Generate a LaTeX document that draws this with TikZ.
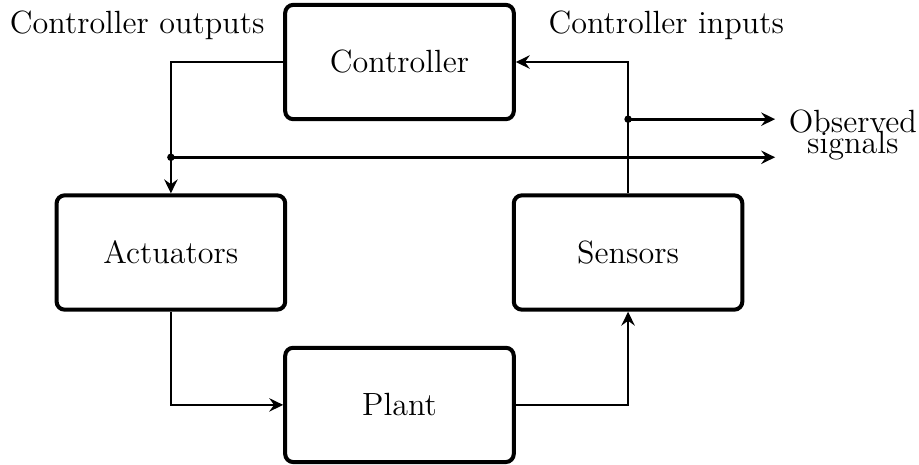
\documentclass[12pt,tikz,border=0pt]{standalone}
\usetikzlibrary{calc,arrows.meta}
\tikzset{
  blockbox/.style={draw, rounded corners=3pt, line width=1.5pt, minimum width=3cm, minimum height=1.5cm, align=center},
  conn/.style={line width=1pt, -{Stealth[length=5.2pt, width=5pt, inset=1.8pt]}},
  lbl/.style={inner sep=0pt, anchor=base west},
  dotmark/.style={fill=black}
}
\begin{document}
\begin{tikzpicture}
\useasboundingbox (-5.243,0.814) rectangle (6.818,-5.276);
\node[blockbox] (ctrl) at (0,0) {Controller};
\node[blockbox] (act) at (-3,-2.5) {Actuators};
\node[blockbox] (sens) at (3,-2.5) {Sensors};
\node[blockbox] (plant) at (0,-4.5) {Plant};

\node[lbl] (outl) at (-5.12,0.38) {Controller outputs};
\node[lbl] (inl) at (1.95,0.38) {Controller inputs};
\node[inner sep=0pt, anchor=base] (obs1) at (5.95,-0.919) {Observed};
\node[inner sep=0pt, anchor=base] (obs2) at (5.95,-1.194) {signals};

\coordinate (ybr) at (0,-1.25);
\coordinate (ytop) at (0,-0.75);
\coordinate (d1) at (act.north |- ybr);
\coordinate (d2) at (sens.north |- ytop);
\coordinate (e1) at (4.93,-1.25);
\coordinate (e2) at (4.93,-0.75);

\draw[conn] (ctrl.west) -| (act.north);
\draw[conn] (sens.north) |- (ctrl.east);
\draw[conn] (act.south) |- (plant.west);
\draw[conn] (plant.east) -| (sens.south);
\draw[conn] (d1) -- (e1);
\draw[conn] (d2) -- (e2);
\fill[dotmark] (d1) circle (1.4pt);
\fill[dotmark] (d2) circle (1.4pt);
\end{tikzpicture}
\end{document}
